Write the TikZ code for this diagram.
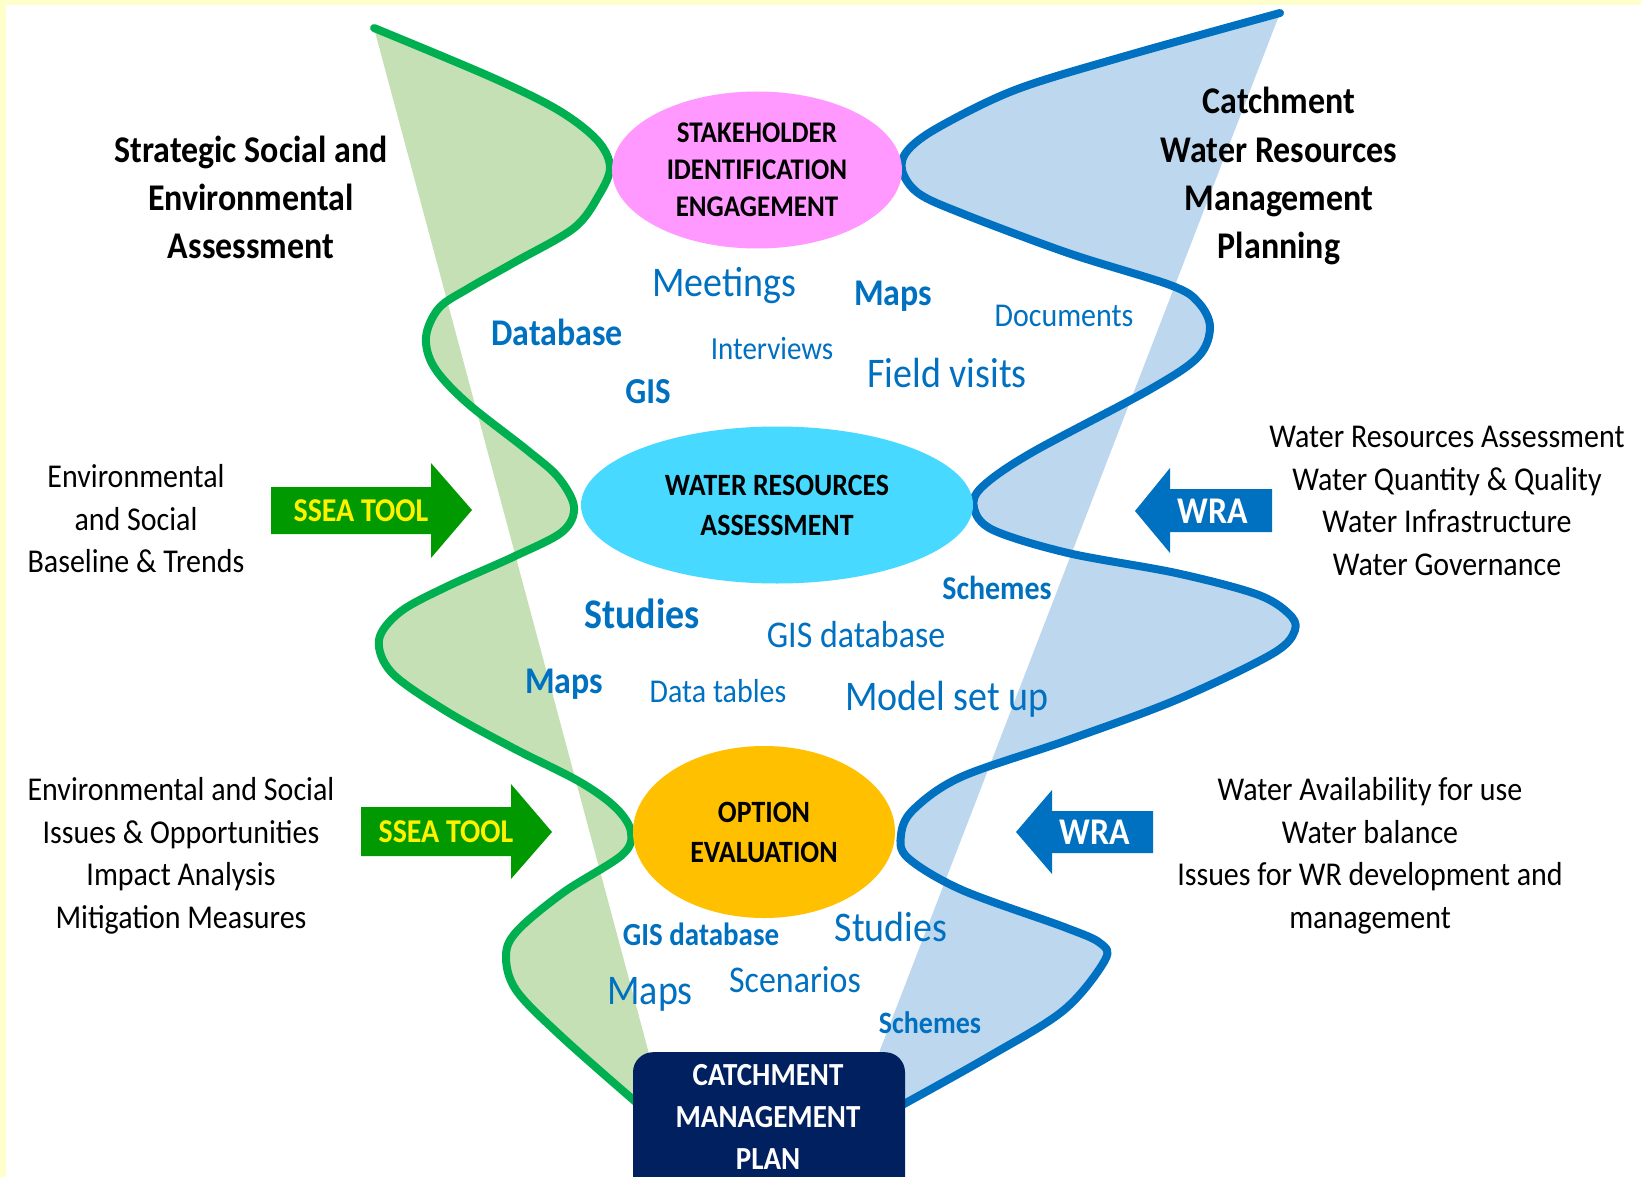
\documentclass[tikz,border=0pt]{standalone}
\usepackage{fontspec}
\setmainfont{Carlito}[FakeStretch=0.9]
\usetikzlibrary{shapes.geometric}
\definecolor{bgyellow}{HTML}{FFFFCC}
\definecolor{gline}{HTML}{00B050}
\definecolor{gfill}{HTML}{C5E0B4}
\definecolor{bline}{HTML}{0070C0}
\definecolor{bfill}{HTML}{BDD7EE}
\definecolor{pinkell}{HTML}{FF99FF}
\definecolor{cyanell}{HTML}{47D9FF}
\definecolor{orangeell}{HTML}{FFC000}
\definecolor{navy}{HTML}{002060}
\definecolor{arrgreen}{HTML}{009900}
\definecolor{wblue}{HTML}{0070C0}
\begin{document}
\begin{tikzpicture}[x=1pt,y=-1pt,
  tr/.style={inner sep=0pt, font=\fontsize{#1}{#1}\selectfont, text height=#1*0.64pt, text depth=0pt},
  tb/.style={inner sep=0pt, font=\bfseries\fontsize{#1}{#1}\selectfont, text height=#1*0.64pt, text depth=0pt},
  side/.style={tr=33.3},
  ttl/.style={tb=37.7},
  wr/.style={tr=#1, text=wblue},
  wb/.style={tb=#1, text=wblue},
  ell/.style={ellipse, inner sep=0pt, align=center},
  wave/.style={line width=8pt, line join=round, line cap=round}
]
\useasboundingbox (0,0) rectangle (1641,1177);
\fill[white] (0,0) rectangle (1641,1177);
\fill[bgyellow] (0,0) rectangle (1641,5);
\fill[bgyellow] (0,0) rectangle (6,1177);

% green band
\fill[gfill] plot[smooth, tension=0.55] coordinates {(374,28) (491,77) (558,110) (597,140) (610,167) (599,195) (574,228) (515,262) (469,288) (439,308) (426,337) (434,367) (466,402) (527,450) (558,477) (574,507) (562,532) (513,557) (446,587) (400,612) (379,640) (392,673) (446,711) (513,748) (580,782) (616,808) (631,832) (622,855) (564,892) (518,930) (506,955) (516,990) (562,1037) (645,1110)} -- (660,1110) -- (648,1050) -- cycle;
\draw[wave, gline] plot[smooth, tension=0.55] coordinates {(374,28) (491,77) (558,110) (597,140) (610,167) (599,195) (574,228) (515,262) (469,288) (439,308) (426,337) (434,367) (466,402) (527,450) (558,477) (574,507) (562,532) (513,557) (446,587) (400,612) (379,640) (392,673) (446,711) (513,748) (580,782) (616,808) (631,832) (622,855) (564,892) (518,930) (506,955) (516,990) (562,1037) (645,1110)};

% blue band
\fill[bfill] plot[smooth, tension=0.55] coordinates {(1280,13) (1122,57) (1015,90) (939,127) (908,150) (902,170) (918,193) (961,213) (1068,253) (1170,285) (1198,302) (1210,327) (1198,357) (1149,390) (1031,453) (982,487) (974,508) (993,530) (1068,553) (1176,573) (1256,594) (1288,613) (1295,630) (1272,654) (1176,700) (1068,740) (961,777) (913,810) (901,835) (908,858) (962,890) (1064,927) (1100,943) (1105,960) (1064,1010) (988,1057) (893,1110)} -- (870,1110) -- (880,1050) -- cycle;
\draw[wave, bline] plot[smooth, tension=0.55] coordinates {(1280,13) (1122,57) (1015,90) (939,127) (908,150) (902,170) (918,193) (961,213) (1068,253) (1170,285) (1198,302) (1210,327) (1198,357) (1149,390) (1031,453) (982,487) (974,508) (993,530) (1068,553) (1176,573) (1256,594) (1288,613) (1295,630) (1272,654) (1176,700) (1068,740) (961,777) (913,810) (901,835) (908,858) (962,890) (1064,927) (1100,943) (1105,960) (1064,1010) (988,1057) (893,1110)};

% ellipses
\node[ell, fill=pinkell, minimum width=290, minimum height=157, font=\bfseries\fontsize{30}{37}\selectfont] (stake) at (757,170) {STAKEHOLDER\\IDENTIFICATION\\ENGAGEMENT};
\node[ell, fill=cyanell, minimum width=392, minimum height=157, font=\bfseries\fontsize{31}{40}\selectfont] (wra) at (777,505) {WATER RESOURCES\\ASSESSMENT};
\node[ell, fill=orangeell, minimum width=262, minimum height=172, font=\bfseries\fontsize{31}{40}\selectfont] (opt) at (764,832) {OPTION\\EVALUATION};

% catchment management plan box
\node[fill=navy, rounded corners=20pt, minimum width=272, minimum height=170, anchor=north, inner sep=0pt] (cmp) at (769,1052) {};
\node[tb=32.2, text=white] (cmp1) at (768,1075) {CATCHMENT};
\node[tb=32.2, text=white] (cmp2) at (768,1117) {MANAGEMENT};
\node[tb=32.2, text=white] (cmp3) at (768,1159) {PLAN};

% arrows
\fill[arrgreen] (271,487) -- (431,487) -- (431,463) -- (472,510) -- (431,558) -- (431,534) -- (271,534) -- cycle;
\node[tb=33.3, text=yellow] (ssea1) at (361,511) {SSEA TOOL};
\fill[arrgreen] (361,807) -- (511,807) -- (511,784) -- (552,832) -- (511,879) -- (511,856) -- (361,856) -- cycle;
\node[tb=33.3, text=yellow] (ssea2) at (446,832) {SSEA TOOL};
\fill[wblue] (1272,489) -- (1170,489) -- (1170,468) -- (1135,511) -- (1170,553) -- (1170,532) -- (1272,532) -- cycle;
\node[tb=37.7, text=white] (wra1) at (1213,511) {WRA};
\fill[wblue] (1153,811) -- (1052,811) -- (1052,790) -- (1016,832) -- (1052,874) -- (1052,853) -- (1153,853) -- cycle;
\node[tb=37.7, text=white] (wra2) at (1095,832) {WRA};

% titles
\node[ttl] (tl1) at (251,150) {Strategic Social and};
\node[ttl] (tl2) at (251,198) {Environmental};
\node[ttl] (tl3) at (251,246) {Assessment};
\node[ttl] (tr1) at (1279,101) {Catchment};
\node[ttl] (tr2) at (1279,150) {Water Resources};
\node[ttl] (tr3) at (1279,198) {Management};
\node[ttl] (tr4) at (1279,246) {Planning};

% side texts
\node[side] (l1a) at (136,477) {Environmental};
\node[side] (l1b) at (136,520) {and Social};
\node[side] (l1c) at (136,562) {Baseline \& Trends};
\node[side] (l2a) at (181,790) {Environmental and Social};
\node[side] (l2b) at (181,833) {Issues \& Opportunities};
\node[side] (l2c) at (181,875) {Impact Analysis};
\node[side] (l2d) at (181,918) {Mitigation Measures};
\node[side] (r1a) at (1447,437) {Water Resources Assessment};
\node[side] (r1b) at (1447,480) {Water Quantity \& Quality};
\node[side] (r1c) at (1447,522) {Water Infrastructure};
\node[side] (r1d) at (1447,565) {Water Governance};
\node[side] (r2a) at (1370,790) {Water Availability for use};
\node[side] (r2b) at (1370,833) {Water balance};
\node[side] (r2c) at (1370,875) {Issues for WR development and};
\node[side] (r2d) at (1370,918) {management};

% blue words
\node[wr=42.2] (w1) at (724,283) {Meetings};
\node[wb=37.7] (w2) at (893,293) {Maps};
\node[wr=33.3] (w3) at (1064,316) {Documents};
\node[wb=37.7] (w4) at (557,333) {Database};
\node[wr=32.2] (w5) at (772,349) {Interviews};
\node[wr=42.2] (w6) at (947,374) {Field visits};
\node[wb=36.6] (w7) at (648,392) {GIS};
\node[wb=33.3] (w8) at (997,589) {Schemes};
\node[wb=42.2] (w9) at (642,615) {Studies};
\node[wr=37.7] (w10) at (856,635) {GIS database};
\node[wb=37.7] (w11) at (564,681) {Maps};
\node[wr=33.3] (w12) at (718,692) {Data tables};
\node[wr=42.2] (w13) at (947,697) {Model set up};
\node[wb=32.2] (w14) at (701,935) {GIS database};
\node[wr=42.2] (w15) at (891,928) {Studies};
\node[wr=37.7] (w16) at (795,980) {Scenarios};
\node[wr=42.2] (w17) at (650,991) {Maps};
\node[wb=31.1] (w18) at (930,1024) {Schemes};
\end{tikzpicture}
\end{document}
